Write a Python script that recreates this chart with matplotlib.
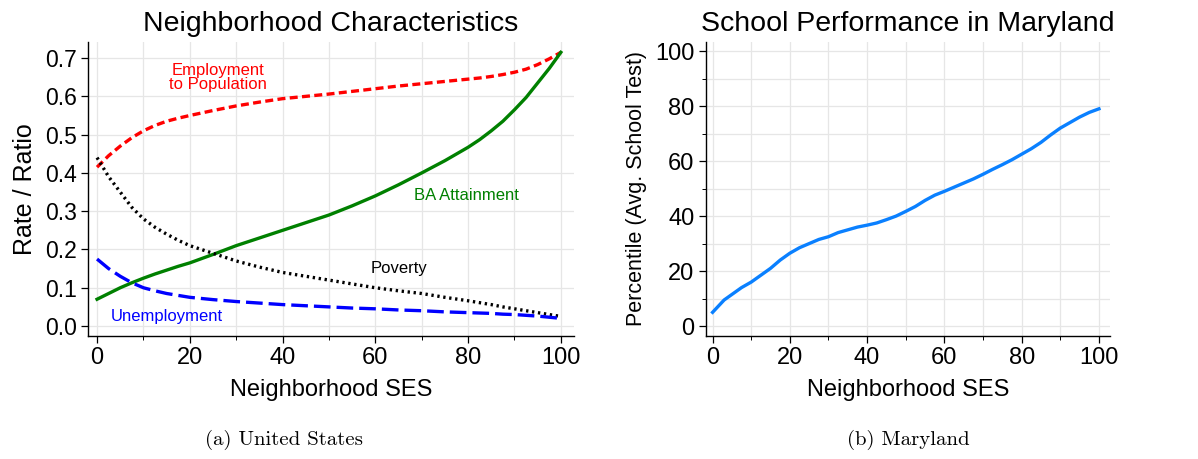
import matplotlib
matplotlib.use("Agg")
import matplotlib.pyplot as plt
from matplotlib.ticker import MultipleLocator, FormatStrFormatter

plt.rcParams['font.family'] = ['Liberation Sans', 'DejaVu Sans']

# Neighborhood characteristics (United States)
ses = [0, 2.5, 5, 7.5, 10, 12.5, 15, 17.5, 20, 25, 30, 35, 40, 45, 50, 55, 60, 65, 70,
       75, 80, 82.5, 85, 87.5, 90, 92.5, 95, 97.5, 100]
employment = [0.415, 0.445, 0.47, 0.492, 0.51, 0.524, 0.535, 0.543, 0.55, 0.563, 0.575, 0.585,
              0.594, 0.600, 0.606, 0.613, 0.62, 0.627, 0.633, 0.639, 0.645, 0.648, 0.652, 0.657,
              0.663, 0.671, 0.683, 0.698, 0.715]
ba_attain = [0.07, 0.085, 0.10, 0.113, 0.125, 0.136, 0.146, 0.156, 0.165, 0.187, 0.21, 0.23,
             0.25, 0.27, 0.29, 0.314, 0.34, 0.369, 0.40, 0.432, 0.467, 0.487, 0.51, 0.535,
             0.565, 0.597, 0.635, 0.673, 0.715]
poverty = [0.44, 0.39, 0.35, 0.31, 0.28, 0.258, 0.24, 0.224, 0.21, 0.19, 0.17, 0.154, 0.14,
           0.13, 0.12, 0.11, 0.10, 0.092, 0.085, 0.075, 0.066, 0.061, 0.056, 0.05, 0.045,
           0.04, 0.035, 0.03, 0.025]
unemployment = [0.175, 0.15, 0.13, 0.113, 0.10, 0.092, 0.085, 0.08, 0.075, 0.069, 0.064, 0.06,
                0.056, 0.053, 0.05, 0.047, 0.045, 0.042, 0.04, 0.037, 0.035, 0.034, 0.033,
                0.031, 0.03, 0.028, 0.026, 0.023, 0.02]

# School performance (Maryland)
md_ses = [0, 1, 2, 3, 5, 7.5, 10, 12.5, 15, 17.5, 20, 22.5, 25, 27.5, 30, 32.5, 35, 37.5, 40,
          42.5, 45, 47.5, 50, 52.5, 55, 57.5, 60, 62.5, 65, 67.5, 70, 72.5, 75, 77.5, 80,
          82.5, 85, 87.5, 90, 92.5, 95, 97.5, 100]
md_pct = [5, 6.5, 8, 9.5, 11.5, 14, 16, 18.5, 21, 24, 26.5, 28.5, 30, 31.5, 32.5, 34, 35, 36,
          36.7, 37.5, 38.7, 40, 41.7, 43.5, 45.7, 47.6, 49, 50.5, 52, 53.5, 55.2, 57, 58.7,
          60.5, 62.5, 64.5, 66.8, 69.5, 72, 74, 76, 77.7, 79]

fig = plt.figure(figsize=(11.98, 4.59), dpi=100)
ax1 = fig.add_axes([0.0735, 0.268, 0.4055, 0.6405])
ax2 = fig.add_axes([0.589, 0.268, 0.3375, 0.6405])

grid_kw = dict(color='#e6e6e6', linewidth=0.9)
LW = 2.4


def style(ax, ylab_size):
    for s in ('top', 'right'):
        ax.spines[s].set_visible(False)
    ax.spines['left'].set_linewidth(1.0)
    ax.spines['bottom'].set_linewidth(1.0)
    ax.xaxis.set_major_locator(MultipleLocator(20))
    ax.xaxis.set_minor_locator(MultipleLocator(10))
    ax.grid(True, which='both', **grid_kw)
    ax.set_axisbelow(True)
    ax.tick_params(which='major', direction='out', length=5, width=0.9, labelsize=17, pad=3)
    ax.tick_params(axis='y', which='major', labelsize=ylab_size)
    ax.tick_params(which='minor', direction='out', length=3, width=0.7)
    ax.set_xlabel('Neighborhood SES', fontsize=17, labelpad=7)


# Left panel
ax1.plot(ses, employment, color='#ff0000', lw=LW, ls=(0, (2.4, 1.3)))
ax1.plot(ses, ba_attain, color='#008000', lw=LW, ls='-')
ax1.plot(ses, poverty, color='black', lw=LW, ls=(0, (0.7, 1.1)))
ax1.plot(ses, unemployment, color='#0000ff', lw=LW, ls=(0, (5, 1.8)))
ax1.set_xlim(-1.94, 102.8)
ax1.set_ylim(-0.026, 0.742)
ax1.yaxis.set_major_locator(MultipleLocator(0.1))
ax1.yaxis.set_major_formatter(FormatStrFormatter('%.1f'))
style(ax1, 16.5)
ax1.set_ylabel('Rate / Ratio', fontsize=18, labelpad=6)
ax1.set_title('Neighborhood Characteristics', fontsize=20.5, pad=8)
ax1.text(26, 0.65, 'Employment\nto Population', color='#ff0000', fontsize=12,
         ha='center', va='center', linespacing=0.95)
ax1.text(79.7, 0.342, 'BA Attainment', color='#008000', fontsize=12, ha='center', va='center')
ax1.text(65, 0.151, 'Poverty', color='black', fontsize=12, ha='center', va='center')
ax1.text(15, 0.026, 'Unemployment', color='#0000ff', fontsize=12, ha='center', va='center')

# Right panel
ax2.plot(md_ses, md_pct, color='#0a80ff', lw=LW)
ax2.set_xlim(-1.8, 102.85)
ax2.set_ylim(-3.6, 103.3)
ax2.yaxis.set_major_locator(MultipleLocator(20))
ax2.yaxis.set_minor_locator(MultipleLocator(10))
style(ax2, 17)
ax2.set_ylabel('Percentile (Avg. School Test)', fontsize=15.5, labelpad=6)
ax2.set_title('School Performance in Maryland', fontsize=20.5, pad=8)

# Sub-figure captions
cap_font = dict(family=['cmr10', 'DejaVu Serif'], fontsize=15, ha='center', va='center')
fig.text(284 / 1198, 1 - 440 / 459, '(a) United States', **cap_font)
fig.text(908 / 1198, 1 - 440 / 459, '(b) Maryland', **cap_font)

fig.savefig('out.png', dpi=100)
